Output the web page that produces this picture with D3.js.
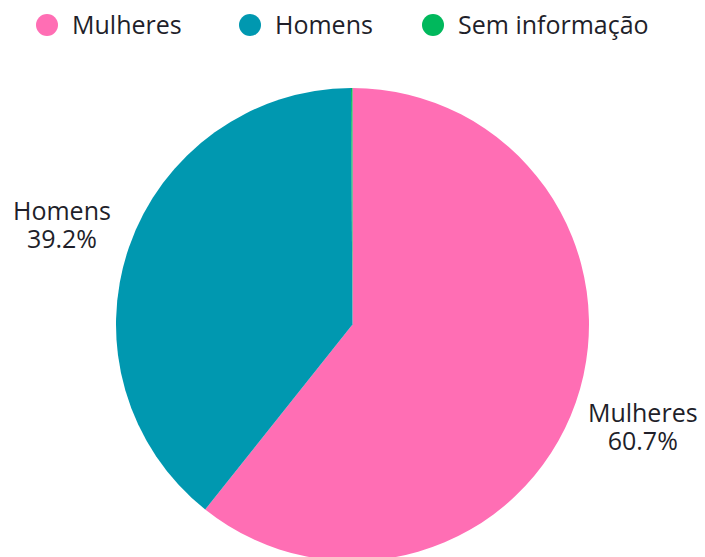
<!DOCTYPE html>
<html>
<head>
<meta charset="utf-8">
<script src="https://cdn.jsdelivr.net/npm/d3@7"></script>
<style>
  body { margin: 0; background: #fff; }
  text { font-family: "Open Sans", sans-serif; fill: #1f1f2a; }
</style>
</head>
<body>
<div id="chart"></div>
<script>
var categories = ["Mulheres", "Homens", "Sem informação"];
var values = [60.7, 39.2, 0.1];
var colors = ["#ff6eb4", "#0098b0", "#00b85c"];

function init() {
    var w = 705;
    var h = 557;
    var cx = 352.5, cy = 324.5, r = 236.5;

    var svg = d3.select("#chart")
        .append("svg")
        .attr("width", w)
        .attr("height", h);

    var data = categories.map((c, i) => ({ name: c, value: values[i], color: colors[i] }));

    var pie = d3.pie().sort(null).value(d => d.value);
    var arc = d3.arc().innerRadius(0).outerRadius(r);
    var labelArc = d3.arc().innerRadius(r * 1.3).outerRadius(r * 1.3);

    var g = svg.append("g").attr("transform", `translate(${cx}, ${cy})`);
    var arcs = pie(data);

    g.selectAll("path")
        .data(arcs)
        .enter()
        .append("path")
        .attr("d", arc)
        .attr("fill", d => d.data.color);

    // labels only for the visible slices
    var lbl = g.selectAll("text.lbl")
        .data(arcs.filter(d => d.data.value >= 1))
        .enter()
        .append("text")
        .attr("class", "lbl")
        .attr("text-anchor", "middle")
        .attr("font-size", 25)
        .attr("transform", d => `translate(${labelArc.centroid(d)})`);
    lbl.append("tspan").attr("x", 0).attr("dy", "-0.15em").text(d => d.data.name);
    lbl.append("tspan").attr("x", 0).attr("dy", "1.12em").text(d => d.data.value.toFixed(1) + "%");

    // legend
    var legendX = [47, 250, 433];
    var leg = svg.selectAll("g.leg")
        .data(data)
        .enter()
        .append("g")
        .attr("class", "leg")
        .attr("transform", (d, i) => `translate(${legendX[i]}, 25)`);
    leg.append("circle").attr("r", 11).attr("fill", d => d.color);
    leg.append("text")
        .attr("x", 25)
        .attr("dy", "0.35em")
        .attr("font-size", 25)
        .text(d => d.name);
}

window.onload = init;
</script>
</body>
</html>
